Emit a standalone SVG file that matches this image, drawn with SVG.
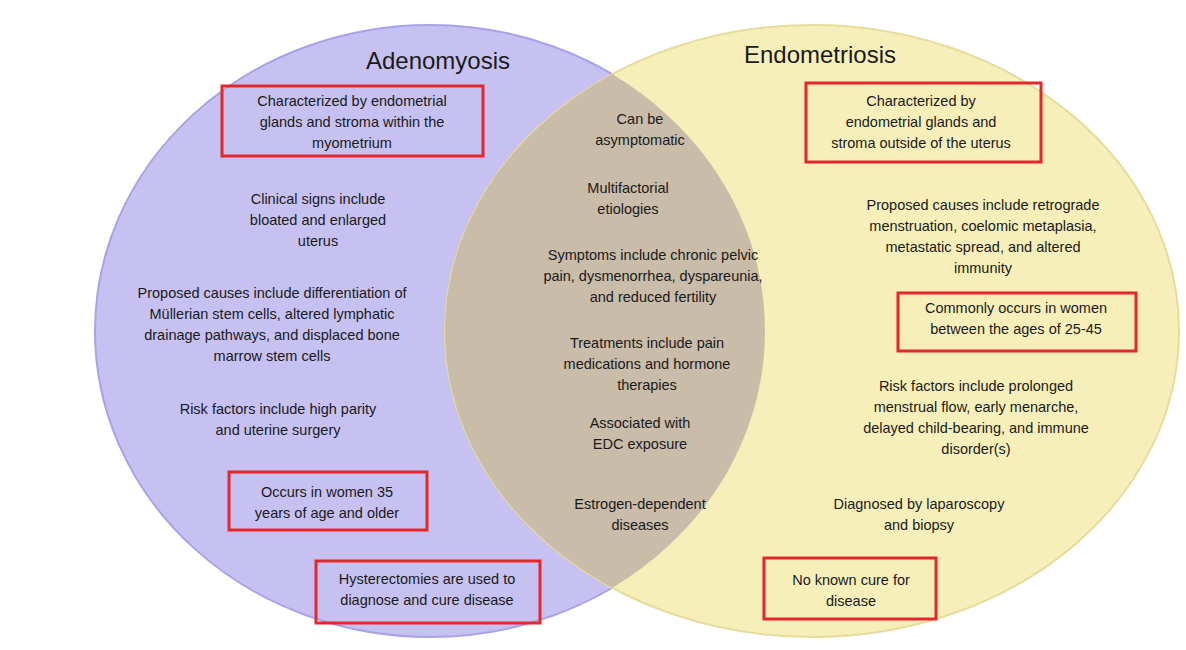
<svg xmlns="http://www.w3.org/2000/svg" width="1186" height="650" viewBox="0 0 1186 650">
<style>
text{font-family:"Liberation Sans",Arial,sans-serif;fill:#1a1a1a;font-size:14.5px;text-anchor:middle}
.t{font-size:24px}
.box{fill:none;stroke:#e5262b;stroke-width:3}
</style>
<defs><clipPath id="cl"><ellipse cx="430" cy="331" rx="335" ry="306"/></clipPath></defs>
<rect width="1186" height="650" fill="#fff"/>
<g id="adenomyosis"><ellipse cx="430" cy="331" rx="335" ry="306" fill="#c6c1f1" stroke="#aaa2e6" stroke-width="2"/></g>
<g id="endometriosis"><ellipse cx="812" cy="331" rx="367" ry="306" fill="#f7efb9" stroke="#e6dc9c" stroke-width="2"/></g>
<g id="overlap"><ellipse cx="812" cy="331" rx="367" ry="306" fill="#c9bca9" clip-path="url(#cl)"/></g>
<g id="labels">
<text class="t" x="438" y="69">Adenomyosis</text>
<text class="t" x="820" y="63">Endometriosis</text>
<text x="352" y="106">Characterized by endometrial</text><text x="352" y="127">glands and stroma within the</text><text x="352" y="148">myometrium</text>
<text x="318" y="204">Clinical signs include</text><text x="318" y="225">bloated and enlarged</text><text x="318" y="246">uterus</text>
<text x="272" y="298">Proposed causes include differentiation of</text><text x="272" y="319">Müllerian stem cells, altered lymphatic</text><text x="272" y="340">drainage pathways, and displaced bone</text><text x="272" y="361">marrow stem cells</text>
<text x="278" y="414">Risk factors include high parity</text><text x="278" y="435">and uterine surgery</text>
<text x="327" y="497">Occurs in women 35</text><text x="327" y="518">years of age and older</text>
<text x="427" y="584">Hysterectomies are used to</text><text x="427" y="605">diagnose and cure disease</text>
<text x="640" y="124">Can be</text><text x="640" y="145">asymptomatic</text>
<text x="628" y="193">Multifactorial</text><text x="628" y="214">etiologies</text>
<text x="653" y="260">Symptoms include chronic pelvic</text><text x="653" y="281">pain, dysmenorrhea, dyspareunia,</text><text x="653" y="302">and reduced fertility</text>
<text x="647" y="348">Treatments include pain</text><text x="647" y="369">medications and hormone</text><text x="647" y="390">therapies</text>
<text x="640" y="428">Associated with</text><text x="640" y="449">EDC exposure</text>
<text x="640" y="509">Estrogen-dependent</text><text x="640" y="530">diseases</text>
<text x="921" y="106">Characterized by</text><text x="921" y="127">endometrial glands and</text><text x="921" y="148">stroma outside of the uterus</text>
<text x="983" y="210">Proposed causes include retrograde</text><text x="983" y="231">menstruation, coelomic metaplasia,</text><text x="983" y="252">metastatic spread, and altered</text><text x="983" y="273">immunity</text>
<text x="1016" y="313">Commonly occurs in women</text><text x="1016" y="334">between the ages of 25-45</text>
<text x="976" y="391">Risk factors include prolonged</text><text x="976" y="412">menstrual flow, early menarche,</text><text x="976" y="433">delayed child-bearing, and immune</text><text x="976" y="454">disorder(s)</text>
<text x="919" y="509">Diagnosed by laparoscopy</text><text x="919" y="530">and biopsy</text>
<text x="851" y="585">No known cure for</text><text x="851" y="606">disease</text>
</g>
<g id="highlights">
<rect class="box" x="222" y="86" width="261" height="70"/>
<rect class="box" x="229" y="472" width="198" height="58"/>
<rect class="box" x="316" y="561" width="224" height="62"/>
<rect class="box" x="806" y="83" width="235" height="79"/>
<rect class="box" x="898" y="293" width="238" height="58"/>
<rect class="box" x="764" y="558" width="172" height="61"/>
</g>
</svg>
